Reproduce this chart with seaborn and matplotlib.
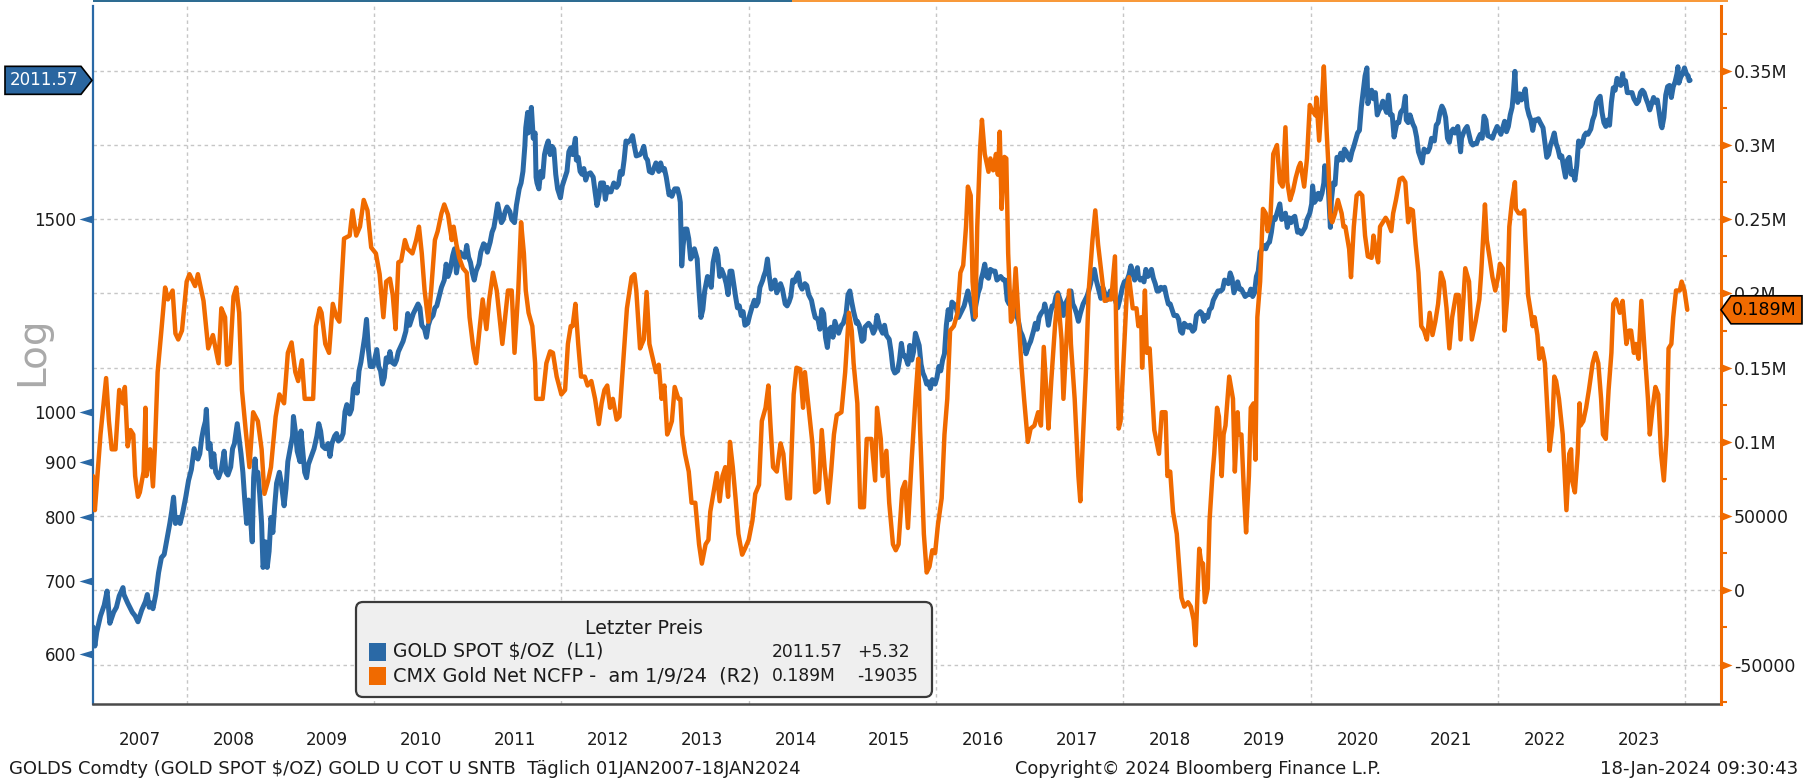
import numpy as np
import pandas as pd
import matplotlib
matplotlib.use("Agg")
import matplotlib.pyplot as plt
import matplotlib.transforms as mtransforms
from matplotlib.patches import Rectangle, FancyBboxPatch, Polygon
from matplotlib.ticker import FixedLocator, FixedFormatter, NullFormatter, NullLocator
import seaborn as sns

# ------------------------------------------------------------------ data
GOLD_T = [
    2007.00, 2007.02, 2007.04, 2007.08, 2007.12, 2007.15, 2007.17, 2007.18, 2007.22, 2007.25, 2007.28, 2007.32, 2007.33, 2007.37, 2007.40, 2007.42, 2007.45, 2007.48, 2007.52, 2007.56, 2007.58, 2007.60, 2007.62, 2007.64, 2007.67, 2007.70, 2007.73, 2007.76, 2007.79, 2007.82, 2007.84, 2007.86, 2007.88, 2007.91, 2007.93, 2007.96, 2007.99,
    2008.02, 2008.05, 2008.08, 2008.10, 2008.12, 2008.14, 2008.16, 2008.18, 2008.20, 2008.21, 2008.23, 2008.25, 2008.27, 2008.29, 2008.31, 2008.34, 2008.37, 2008.40, 2008.42, 2008.44, 2008.47, 2008.49, 2008.51, 2008.54, 2008.56, 2008.58, 2008.60, 2008.62, 2008.64, 2008.66, 2008.68, 2008.70, 2008.715, 2008.73, 2008.74, 2008.76, 2008.78, 2008.80, 2008.815, 2008.83, 2008.84, 2008.86, 2008.88, 2008.90, 2008.92, 2008.94, 2008.96, 2008.99,
    2009.01, 2009.04, 2009.06, 2009.08, 2009.10, 2009.13, 2009.14, 2009.16, 2009.18, 2009.21, 2009.22, 2009.24, 2009.26, 2009.28, 2009.30, 2009.33, 2009.36, 2009.39, 2009.41, 2009.43, 2009.45, 2009.48, 2009.51, 2009.53, 2009.55, 2009.58, 2009.60, 2009.62, 2009.65, 2009.67, 2009.69, 2009.71, 2009.74, 2009.76, 2009.78, 2009.80, 2009.82, 2009.84, 2009.86, 2009.88, 2009.90, 2009.92, 2009.94, 2009.96, 2009.99,
    2010.01, 2010.03, 2010.05, 2010.07, 2010.09, 2010.11, 2010.13, 2010.15, 2010.17, 2010.19, 2010.22, 2010.24, 2010.26, 2010.29, 2010.31, 2010.34, 2010.36, 2010.38, 2010.40, 2010.42, 2010.45, 2010.47, 2010.49, 2010.51, 2010.54, 2010.56, 2010.58, 2010.60, 2010.63, 2010.65, 2010.67, 2010.69, 2010.72, 2010.75, 2010.77, 2010.79, 2010.81, 2010.84, 2010.86, 2010.88, 2010.90, 2010.92, 2010.94, 2010.97, 2010.99,
    2011.01, 2011.03, 2011.05, 2011.07, 2011.09, 2011.12, 2011.14, 2011.17, 2011.19, 2011.21, 2011.24, 2011.26, 2011.28, 2011.30, 2011.32, 2011.34, 2011.36, 2011.38, 2011.40, 2011.42, 2011.45, 2011.47, 2011.50, 2011.52, 2011.55, 2011.57, 2011.59, 2011.61, 2011.62, 2011.64, 2011.645, 2011.66, 2011.67, 2011.68, 2011.70, 2011.72, 2011.73, 2011.74, 2011.76, 2011.78, 2011.80, 2011.82, 2011.84, 2011.86, 2011.88, 2011.90, 2011.92, 2011.94, 2011.96, 2011.99,
    2012.01, 2012.04, 2012.06, 2012.08, 2012.10, 2012.12, 2012.15, 2012.16, 2012.18, 2012.20, 2012.22, 2012.24, 2012.26, 2012.28, 2012.31, 2012.34, 2012.36, 2012.38, 2012.40, 2012.42, 2012.45, 2012.47, 2012.49, 2012.51, 2012.53, 2012.56, 2012.59, 2012.61, 2012.63, 2012.65, 2012.67, 2012.69, 2012.71, 2012.74, 2012.76, 2012.78, 2012.80, 2012.84, 2012.86, 2012.88, 2012.90, 2012.92, 2012.94, 2012.97,
    2013.01, 2013.04, 2013.06, 2013.08, 2013.10, 2013.12, 2013.15, 2013.16, 2013.18, 2013.21, 2013.24, 2013.26, 2013.27, 2013.285, 2013.30, 2013.32, 2013.34, 2013.36, 2013.38, 2013.40, 2013.42, 2013.45, 2013.47, 2013.49, 2013.51, 2013.53, 2013.56, 2013.58, 2013.60, 2013.62, 2013.65, 2013.67, 2013.69, 2013.71, 2013.74, 2013.76, 2013.78, 2013.80, 2013.82, 2013.84, 2013.86, 2013.88, 2013.90, 2013.92, 2013.94, 2013.96, 2013.99,
    2014.01, 2014.04, 2014.06, 2014.08, 2014.10, 2014.12, 2014.15, 2014.16, 2014.18, 2014.20, 2014.22, 2014.24, 2014.26, 2014.28, 2014.30, 2014.32, 2014.34, 2014.36, 2014.39, 2014.41, 2014.43, 2014.45, 2014.47, 2014.49, 2014.51, 2014.53, 2014.55, 2014.57, 2014.60, 2014.62, 2014.64, 2014.67, 2014.69, 2014.71, 2014.74, 2014.76, 2014.78, 2014.80, 2014.82, 2014.84, 2014.86, 2014.88, 2014.90, 2014.92, 2014.94, 2014.96, 2014.99,
    2015.01, 2015.04, 2015.06, 2015.08, 2015.10, 2015.12, 2015.15, 2015.16, 2015.18, 2015.21, 2015.23, 2015.24, 2015.26, 2015.28, 2015.31, 2015.33, 2015.35, 2015.37, 2015.39, 2015.41, 2015.43, 2015.45, 2015.47, 2015.50, 2015.52, 2015.54, 2015.56, 2015.59, 2015.61, 2015.63, 2015.65, 2015.67, 2015.70, 2015.72, 2015.74, 2015.76, 2015.78, 2015.80, 2015.82, 2015.84, 2015.86, 2015.88, 2015.90, 2015.92, 2015.94, 2015.96, 2015.99,
    2016.01, 2016.03, 2016.05, 2016.07, 2016.09, 2016.11, 2016.13, 2016.15, 2016.17, 2016.19, 2016.21, 2016.24, 2016.26, 2016.28, 2016.30, 2016.32, 2016.34, 2016.36, 2016.38, 2016.40, 2016.42, 2016.45, 2016.47, 2016.48, 2016.50, 2016.52, 2016.54, 2016.56, 2016.58, 2016.61, 2016.63, 2016.65, 2016.67, 2016.69, 2016.72, 2016.74, 2016.76, 2016.78, 2016.80, 2016.82, 2016.84, 2016.86, 2016.88, 2016.90, 2016.92, 2016.94, 2016.96, 2016.99,
    2017.01, 2017.04, 2017.06, 2017.08, 2017.10, 2017.12, 2017.15, 2017.16, 2017.18, 2017.20, 2017.22, 2017.24, 2017.26, 2017.28, 2017.30, 2017.32, 2017.34, 2017.36, 2017.38, 2017.40, 2017.42, 2017.44, 2017.46, 2017.48, 2017.50, 2017.52, 2017.54, 2017.57, 2017.59, 2017.61, 2017.63, 2017.65, 2017.67, 2017.69, 2017.71, 2017.74, 2017.76, 2017.78, 2017.80, 2017.82, 2017.84, 2017.86, 2017.88, 2017.90, 2017.92, 2017.94, 2017.96, 2017.99,
    2018.01, 2018.04, 2018.06, 2018.08, 2018.10, 2018.12, 2018.15, 2018.16, 2018.18, 2018.20, 2018.22, 2018.24, 2018.26, 2018.28, 2018.30, 2018.32, 2018.34, 2018.36, 2018.38, 2018.40, 2018.42, 2018.44, 2018.46, 2018.48, 2018.50, 2018.52, 2018.54, 2018.57, 2018.59, 2018.61, 2018.63, 2018.65, 2018.67, 2018.69, 2018.71, 2018.74, 2018.76, 2018.78, 2018.80, 2018.82, 2018.84, 2018.86, 2018.88, 2018.90, 2018.92, 2018.94, 2018.96, 2018.99,
    2019.01, 2019.04, 2019.06, 2019.08, 2019.10, 2019.12, 2019.14, 2019.16, 2019.18, 2019.20, 2019.22, 2019.24, 2019.26, 2019.28, 2019.30, 2019.32, 2019.34, 2019.36, 2019.38, 2019.40, 2019.42, 2019.44, 2019.46, 2019.48, 2019.50, 2019.52, 2019.54, 2019.56, 2019.58, 2019.60, 2019.62, 2019.65, 2019.67, 2019.69, 2019.71, 2019.73, 2019.75, 2019.77, 2019.79, 2019.81, 2019.83, 2019.86, 2019.88, 2019.90, 2019.92, 2019.94, 2019.96, 2019.99,
    2020.01, 2020.02, 2020.04, 2020.06, 2020.08, 2020.10, 2020.12, 2020.14, 2020.15, 2020.16, 2020.18, 2020.19, 2020.21, 2020.22, 2020.24, 2020.26, 2020.28, 2020.30, 2020.32, 2020.34, 2020.36, 2020.38, 2020.40, 2020.42, 2020.44, 2020.46, 2020.48, 2020.50, 2020.52, 2020.54, 2020.56, 2020.58, 2020.60, 2020.61, 2020.63, 2020.65, 2020.67, 2020.69, 2020.71, 2020.73, 2020.75, 2020.77, 2020.79, 2020.81, 2020.83, 2020.85, 2020.87, 2020.89, 2020.92, 2020.94, 2020.96, 2020.99,
    2021.01, 2021.02, 2021.04, 2021.06, 2021.09, 2021.11, 2021.13, 2021.15, 2021.17, 2021.19, 2021.21, 2021.23, 2021.25, 2021.27, 2021.29, 2021.32, 2021.34, 2021.36, 2021.38, 2021.40, 2021.42, 2021.44, 2021.46, 2021.48, 2021.50, 2021.52, 2021.54, 2021.57, 2021.59, 2021.60, 2021.61, 2021.63, 2021.65, 2021.67, 2021.69, 2021.71, 2021.73, 2021.75, 2021.77, 2021.79, 2021.81, 2021.83, 2021.85, 2021.87, 2021.89, 2021.92, 2021.94, 2021.96, 2021.99,
    2022.01, 2022.03, 2022.05, 2022.07, 2022.09, 2022.11, 2022.13, 2022.15, 2022.16, 2022.18, 2022.19, 2022.21, 2022.23, 2022.25, 2022.27, 2022.29, 2022.31, 2022.33, 2022.35, 2022.37, 2022.39, 2022.41, 2022.43, 2022.45, 2022.48, 2022.50, 2022.52, 2022.54, 2022.56, 2022.58, 2022.60, 2022.62, 2022.64, 2022.66, 2022.68, 2022.70, 2022.72, 2022.74, 2022.76, 2022.78, 2022.80, 2022.82, 2022.84, 2022.86, 2022.88, 2022.90, 2022.92, 2022.94, 2022.96, 2022.99,
    2023.01, 2023.03, 2023.05, 2023.07, 2023.09, 2023.11, 2023.13, 2023.15, 2023.17, 2023.19, 2023.21, 2023.23, 2023.25, 2023.27, 2023.29, 2023.31, 2023.33, 2023.34, 2023.36, 2023.38, 2023.41, 2023.43, 2023.45, 2023.48, 2023.50, 2023.52, 2023.54, 2023.56, 2023.58, 2023.60, 2023.62, 2023.64, 2023.66, 2023.68, 2023.70, 2023.72, 2023.74, 2023.75, 2023.77, 2023.79, 2023.81, 2023.83, 2023.85, 2023.87, 2023.89, 2023.91, 2023.92, 2023.93, 2023.95, 2023.97, 2023.99,
    2024.01, 2024.03, 2024.04, 2024.05,
]
GOLD_P = [
    635, 610, 628, 650, 665, 685, 655, 640, 655, 662, 678, 690, 680, 668, 660, 655, 650, 642, 658, 670, 680, 662, 668, 660, 680, 712, 735, 740, 765, 790, 810, 835, 790, 800, 790, 810, 835,
    865, 885, 925, 910, 905, 915, 945, 965, 980, 1005, 925, 935, 890, 915, 880, 870, 885, 920, 880, 875, 890, 925, 935, 975, 945, 915, 880, 830, 790, 830, 800, 760, 870, 905, 880, 880, 840, 790, 720, 730, 760, 720, 745, 800, 775, 820, 860, 880,
    860, 820, 850, 900, 920, 950, 990, 960, 920, 900, 960, 920, 880, 870, 895, 910, 925, 950, 975, 960, 930, 925, 935, 910, 935, 950, 955, 940, 945, 955, 1000, 1015, 995, 1005, 1050, 1060, 1040, 1090, 1110, 1140, 1170, 1215, 1140, 1100, 1100,
    1120, 1140, 1100, 1090, 1060, 1075, 1120, 1110, 1135, 1110, 1105, 1115, 1135, 1150, 1160, 1185, 1230, 1200, 1215, 1230, 1245, 1255, 1245, 1200, 1190, 1170, 1200, 1215, 1225, 1245, 1250, 1270, 1300, 1320, 1365, 1330, 1345, 1390, 1410, 1340, 1375, 1400, 1390, 1385, 1420,
    1385, 1370, 1340, 1320, 1345, 1365, 1400, 1425, 1420, 1400, 1430, 1460, 1475, 1510, 1550, 1520, 1490, 1500, 1525, 1540, 1525, 1500, 1490, 1545, 1600, 1620, 1660, 1750, 1820, 1880, 1800, 1830, 1860, 1900, 1780, 1800, 1640, 1620, 1600, 1660, 1640, 1720, 1750, 1770, 1720, 1750, 1740, 1650, 1600, 1570,
    1610, 1640, 1660, 1730, 1745, 1720, 1780, 1700, 1710, 1660, 1650, 1670, 1630, 1650, 1655, 1640, 1590, 1545, 1575, 1620, 1620, 1565, 1605, 1590, 1590, 1620, 1605, 1615, 1660, 1650, 1700, 1770, 1765, 1775, 1790, 1750, 1715, 1720, 1730, 1750, 1710, 1700, 1660, 1655,
    1690, 1660, 1690, 1665, 1670, 1640, 1580, 1590, 1575, 1600, 1600, 1575, 1555, 1360, 1420, 1470, 1470, 1440, 1380, 1390, 1410, 1380, 1290, 1220, 1240, 1290, 1330, 1320, 1300, 1370, 1410, 1390, 1330, 1350, 1330, 1310, 1280, 1345, 1345, 1310, 1275, 1245, 1250, 1225, 1235, 1200, 1205,
    1225, 1250, 1265, 1250, 1260, 1300, 1320, 1330, 1345, 1380, 1330, 1295, 1300, 1320, 1285, 1300, 1310, 1295, 1255, 1250, 1260, 1275, 1320, 1315, 1330, 1340, 1305, 1295, 1310, 1305, 1280, 1265, 1240, 1220, 1215, 1190, 1240, 1230, 1170, 1145, 1190, 1195, 1170, 1210, 1195, 1180, 1200,
    1205, 1230, 1280, 1290, 1260, 1235, 1205, 1210, 1200, 1160, 1165, 1195, 1200, 1205, 1195, 1180, 1190, 1225, 1205, 1190, 1180, 1200, 1175, 1165, 1135, 1095, 1085, 1090, 1115, 1155, 1125, 1125, 1105, 1150, 1115, 1135, 1180, 1165, 1150, 1105, 1085, 1075, 1060, 1065, 1050, 1070, 1060,
    1075, 1100, 1090, 1115, 1130, 1200, 1240, 1215, 1260, 1255, 1250, 1220, 1230, 1240, 1250, 1270, 1290, 1270, 1250, 1215, 1245, 1285, 1300, 1320, 1340, 1365, 1330, 1325, 1350, 1345, 1345, 1320, 1325, 1330, 1320, 1320, 1265, 1255, 1265, 1270, 1290, 1225, 1210, 1185, 1175, 1160, 1130, 1150,
    1160, 1185, 1205, 1190, 1220, 1230, 1240, 1255, 1235, 1200, 1230, 1250, 1250, 1275, 1285, 1270, 1255, 1225, 1255, 1265, 1275, 1290, 1255, 1245, 1230, 1210, 1230, 1255, 1265, 1275, 1290, 1310, 1340, 1350, 1320, 1290, 1270, 1300, 1285, 1265, 1275, 1290, 1285, 1280, 1260, 1245, 1265, 1300,
    1315, 1320, 1335, 1360, 1340, 1320, 1355, 1330, 1320, 1325, 1315, 1350, 1330, 1335, 1350, 1325, 1310, 1290, 1290, 1300, 1295, 1300, 1275, 1255, 1255, 1240, 1225, 1225, 1215, 1185, 1180, 1205, 1200, 1195, 1200, 1185, 1190, 1225, 1230, 1235, 1230, 1210, 1225, 1220, 1240, 1245, 1265, 1280,
    1290, 1290, 1295, 1320, 1315, 1310, 1340, 1325, 1285, 1300, 1315, 1295, 1295, 1285, 1275, 1280, 1280, 1295, 1275, 1285, 1330, 1345, 1400, 1410, 1420, 1410, 1425, 1430, 1460, 1505, 1500, 1530, 1550, 1500, 1505, 1520, 1475, 1505, 1490, 1505, 1510, 1460, 1465, 1455, 1465, 1475, 1500, 1520,
    1550, 1610, 1555, 1565, 1585, 1565, 1585, 1620, 1680, 1645, 1675, 1590, 1475, 1560, 1620, 1615, 1710, 1700, 1725, 1700, 1740, 1730, 1710, 1700, 1730, 1750, 1775, 1800, 1810, 1900, 1965, 2030, 2065, 1915, 1945, 1970, 1935, 1960, 1870, 1890, 1900, 1925, 1900, 1880, 1950, 1870, 1870, 1785, 1840, 1840, 1880, 1895,
    1945, 1850, 1840, 1870, 1835, 1820, 1785, 1730, 1710, 1690, 1740, 1730, 1730, 1745, 1780, 1770, 1830, 1840, 1880, 1905, 1890, 1860, 1780, 1765, 1805, 1815, 1800, 1825, 1760, 1730, 1780, 1800, 1815, 1825, 1795, 1765, 1755, 1760, 1760, 1780, 1795, 1780, 1865, 1850, 1790, 1785, 1780, 1800, 1825,
    1810, 1795, 1820, 1845, 1805, 1825, 1870, 1900, 1940, 2050, 1960, 1920, 1955, 1930, 1950, 1975, 1900, 1870, 1850, 1810, 1850, 1850, 1855, 1840, 1820, 1765, 1710, 1720, 1755, 1775, 1800, 1760, 1740, 1710, 1715, 1675, 1640, 1700, 1710, 1650, 1660, 1630, 1680, 1770, 1750, 1760, 1790, 1800, 1795, 1815,
    1850, 1870, 1920, 1935, 1945, 1880, 1840, 1825, 1850, 1830, 1920, 1980, 1970, 2020, 2000, 1990, 2040, 2000, 2010, 1960, 1960, 1960, 1935, 1915, 1925, 1960, 1970, 1960, 1935, 1915, 1890, 1915, 1940, 1920, 1930, 1880, 1830, 1820, 1860, 1950, 1985, 1990, 1940, 1985, 2005, 2040, 2070, 2000, 2025, 2040, 2065,
    2040, 2030, 2010, 2011.57,
]

NCFP_T = [
    2007.00, 2007.02, 2007.08, 2007.14, 2007.17, 2007.20, 2007.24, 2007.28, 2007.32, 2007.34, 2007.37, 2007.40, 2007.43, 2007.45, 2007.48, 2007.50, 2007.54, 2007.56, 2007.57, 2007.61, 2007.64, 2007.66, 2007.69, 2007.73, 2007.77, 2007.80, 2007.85, 2007.88, 2007.91, 2007.95,
    2008.00, 2008.03, 2008.09, 2008.12, 2008.18, 2008.23, 2008.28, 2008.34, 2008.37, 2008.41, 2008.43, 2008.46, 2008.50, 2008.53, 2008.56, 2008.59, 2008.63, 2008.67, 2008.71, 2008.76, 2008.80, 2008.83, 2008.87, 2008.90, 2008.95, 2008.99,
    2009.04, 2009.08, 2009.12, 2009.16, 2009.19, 2009.23, 2009.26, 2009.30, 2009.35, 2009.38, 2009.42, 2009.44, 2009.48, 2009.52, 2009.56, 2009.60, 2009.63, 2009.68, 2009.74, 2009.77, 2009.81, 2009.85, 2009.89, 2009.93, 2009.97,
    2010.02, 2010.06, 2010.10, 2010.13, 2010.17, 2010.20, 2010.23, 2010.26, 2010.29, 2010.33, 2010.36, 2010.41, 2010.45, 2010.48, 2010.51, 2010.54, 2010.58, 2010.61, 2010.65, 2010.68, 2010.72, 2010.75, 2010.79, 2010.83, 2010.85, 2010.88, 2010.91, 2010.95, 2010.99,
    2011.02, 2011.06, 2011.09, 2011.13, 2011.16, 2011.20, 2011.23, 2011.27, 2011.31, 2011.34, 2011.37, 2011.40, 2011.43, 2011.47, 2011.50, 2011.54, 2011.57, 2011.60, 2011.62, 2011.65, 2011.69, 2011.72, 2011.73, 2011.77, 2011.80, 2011.84, 2011.88, 2011.91, 2011.95,
    2012.00, 2012.04, 2012.07, 2012.10, 2012.12, 2012.15, 2012.18, 2012.21, 2012.25, 2012.28, 2012.32, 2012.36, 2012.40, 2012.43, 2012.46, 2012.49, 2012.52, 2012.55, 2012.59, 2012.62, 2012.66, 2012.70, 2012.75, 2012.78, 2012.80, 2012.84, 2012.88, 2012.91, 2012.94, 2012.98,
    2013.01, 2013.04, 2013.07, 2013.10, 2013.13, 2013.15, 2013.18, 2013.21, 2013.25, 2013.27, 2013.29, 2013.32, 2013.36, 2013.39, 2013.43, 2013.47, 2013.50, 2013.54, 2013.57, 2013.59, 2013.63, 2013.66, 2013.69, 2013.72, 2013.75, 2013.78, 2013.80, 2013.83, 2013.86, 2013.89, 2013.93, 2013.96,
    2014.00, 2014.04, 2014.07, 2014.11, 2014.14, 2014.18, 2014.21, 2014.23, 2014.26, 2014.30, 2014.34, 2014.37, 2014.41, 2014.44, 2014.48, 2014.51, 2014.55, 2014.58, 2014.60, 2014.64, 2014.68, 2014.71, 2014.75, 2014.78, 2014.81, 2014.85, 2014.88, 2014.91, 2014.94, 2014.99,
    2015.03, 2015.07, 2015.10, 2015.12, 2015.16, 2015.19, 2015.23, 2015.26, 2015.31, 2015.35, 2015.37, 2015.41, 2015.43, 2015.47, 2015.50, 2015.54, 2015.57, 2015.60, 2015.64, 2015.67, 2015.70, 2015.74, 2015.78, 2015.81, 2015.83, 2015.87, 2015.90, 2015.93, 2015.96, 2015.99,
    2016.02, 2016.06, 2016.09, 2016.12, 2016.15, 2016.19, 2016.23, 2016.26, 2016.29, 2016.32, 2016.34, 2016.37, 2016.39, 2016.42, 2016.44, 2016.47, 2016.49, 2016.52, 2016.56, 2016.58, 2016.61, 2016.64, 2016.66, 2016.68, 2016.70, 2016.73, 2016.75, 2016.77, 2016.80, 2016.82, 2016.85, 2016.88, 2016.91, 2016.94, 2016.98,
    2017.01, 2017.05, 2017.09, 2017.12, 2017.15, 2017.18, 2017.20, 2017.23, 2017.27, 2017.30, 2017.34, 2017.36, 2017.39, 2017.42, 2017.44, 2017.48, 2017.52, 2017.54, 2017.57, 2017.60, 2017.63, 2017.67, 2017.70, 2017.73, 2017.77, 2017.80, 2017.84, 2017.87, 2017.91, 2017.93, 2017.95, 2017.97,
    2018.00, 2018.04, 2018.06, 2018.10, 2018.14, 2018.16, 2018.19, 2018.20, 2018.23, 2018.25, 2018.28, 2018.30, 2018.33, 2018.38, 2018.41, 2018.45, 2018.47, 2018.50, 2018.53, 2018.57, 2018.62, 2018.65, 2018.69, 2018.72, 2018.75, 2018.77, 2018.81, 2018.83, 2018.85, 2018.87, 2018.90, 2018.92, 2018.95, 2018.97,
    2019.00, 2019.02, 2019.05, 2019.07, 2019.09, 2019.13, 2019.17, 2019.19, 2019.22, 2019.23, 2019.26, 2019.29, 2019.31, 2019.34, 2019.36, 2019.39, 2019.41, 2019.43, 2019.46, 2019.49, 2019.52, 2019.54, 2019.57, 2019.60, 2019.64, 2019.67, 2019.70, 2019.73, 2019.75, 2019.78, 2019.81, 2019.84, 2019.87, 2019.89, 2019.93, 2019.96, 2019.99,
    2020.01, 2020.05, 2020.06, 2020.09, 2020.12, 2020.14, 2020.17, 2020.19, 2020.21, 2020.23, 2020.26, 2020.29, 2020.33, 2020.35, 2020.37, 2020.41, 2020.43, 2020.46, 2020.49, 2020.52, 2020.55, 2020.58, 2020.61, 2020.65, 2020.67, 2020.70, 2020.72, 2020.74, 2020.77, 2020.80, 2020.82, 2020.86, 2020.88, 2020.91, 2020.95, 2020.98,
    2021.01, 2021.04, 2021.06, 2021.09, 2021.12, 2021.15, 2021.18, 2021.21, 2021.24, 2021.27, 2021.30, 2021.33, 2021.36, 2021.39, 2021.42, 2021.45, 2021.48, 2021.51, 2021.55, 2021.58, 2021.60, 2021.63, 2021.65, 2021.69, 2021.72, 2021.76, 2021.80, 2021.82, 2021.86, 2021.88, 2021.91, 2021.94, 2021.97,
    2022.00, 2022.02, 2022.05, 2022.07, 2022.10, 2022.12, 2022.15, 2022.18, 2022.19, 2022.22, 2022.25, 2022.28, 2022.29, 2022.32, 2022.35, 2022.37, 2022.39, 2022.42, 2022.44, 2022.47, 2022.50, 2022.53, 2022.55, 2022.58, 2022.60, 2022.62, 2022.65, 2022.69, 2022.73, 2022.76, 2022.78, 2022.79, 2022.82, 2022.85, 2022.87, 2022.88, 2022.91, 2022.94, 2022.97,
    2023.01, 2023.04, 2023.07, 2023.10, 2023.12, 2023.15, 2023.18, 2023.21, 2023.23, 2023.26, 2023.30, 2023.33, 2023.37, 2023.40, 2023.42, 2023.45, 2023.47, 2023.50, 2023.53, 2023.56, 2023.60, 2023.62, 2023.65, 2023.68, 2023.71, 2023.74, 2023.77, 2023.80, 2023.82, 2023.85, 2023.87, 2023.90, 2023.94, 2023.96, 2023.99,
    2024.02,
]
# net non-commercial futures positions, thousands of contracts
NCFP_K = [
    77, 54, 105, 143, 114, 95, 95, 135, 126, 137, 97, 108, 105, 77, 63, 66, 80, 123, 77, 95, 70, 95, 147, 175, 204, 196, 202, 173, 169, 175,
    208, 213, 205, 213, 195, 163, 172, 153, 190, 184, 152, 153, 198, 204, 187, 135, 108, 83, 120, 114, 95, 65, 74, 83, 117, 132,
    126, 160, 167, 147, 141, 155, 129, 129, 129, 178, 190, 187, 166, 160, 193, 184, 181, 237, 239, 256, 239, 245, 263, 256, 231,
    227, 213, 184, 208, 210, 199, 176, 221, 222, 236, 230, 227, 236, 245, 227, 202, 181, 202, 236, 242, 254, 260, 253, 236, 245, 233, 224, 217, 214,
    184, 163, 153, 178, 196, 176, 196, 214, 202, 184, 166, 184, 202, 202, 160, 202, 248, 227, 202, 187, 178, 153, 129, 129, 129, 153, 161, 160, 144,
    132, 135, 166, 178, 178, 193, 166, 144, 144, 138, 141, 129, 112, 126, 135, 138, 123, 129, 115, 117, 153, 190, 211, 213, 202, 163, 169, 201, 166, 155,
    147, 152, 129, 138, 105, 108, 114, 137, 129, 129, 105, 92, 80, 59, 59, 31, 18, 31, 34, 53, 68, 79, 60, 77, 83, 63, 100, 83, 62, 38, 24, 28,
    34, 47, 65, 71, 114, 123, 138, 114, 83, 80, 99, 92, 62, 62, 132, 150, 149, 123, 147, 123, 99, 66, 68, 108, 83, 59, 80, 105, 118, 120,
    147, 187, 175, 153, 126, 56, 56, 102, 102, 74, 123, 102, 77, 94, 59, 31, 27, 31, 68, 73, 42, 88, 129, 156, 108, 38, 12, 16, 27, 25,
    44, 62, 105, 129, 175, 178, 187, 214, 219, 245, 272, 266, 208, 184, 245, 297, 317, 294, 282, 291, 283, 294, 280, 309, 257, 292, 291, 227, 181, 184, 217, 184, 153, 129, 100,
    109, 111, 120, 111, 164, 132, 109, 141, 178, 199, 169, 129, 166, 202, 166, 129, 77, 60, 105, 147, 202, 236, 256, 233, 211, 195, 196, 196, 225, 153, 109, 114,
    153, 205, 211, 190, 190, 178, 184, 150, 202, 160, 163, 141, 108, 92, 120, 120, 77, 80, 53, 38, -5, -11, -8, -11, -20, -37, 28, 19, 18, -8, 1, 47, 77, 92,
    123, 117, 77, 105, 111, 144, 129, 80, 120, 105, 105, 62, 39, 77, 123, 126, 88, 184, 208, 257, 254, 242, 251, 294, 300, 275, 272, 312, 275, 263, 269, 278, 285, 288, 272, 291, 327,
    324, 320, 332, 303, 330, 353, 309, 285, 251, 248, 254, 263, 254, 245, 245, 230, 211, 245, 266, 268, 266, 239, 225, 224, 239, 227, 221, 245, 248, 251, 249, 242, 254, 263, 277, 278,
    275, 248, 257, 256, 233, 214, 178, 175, 169, 187, 172, 181, 193, 214, 208, 190, 163, 184, 199, 199, 169, 196, 217, 208, 169, 181, 196, 214, 260, 236, 224, 211, 202,
    211, 220, 217, 175, 199, 245, 263, 275, 257, 254, 254, 256, 239, 199, 187, 178, 184, 172, 156, 163, 153, 117, 94, 111, 144, 141, 129, 105, 54, 92, 95, 74, 66, 92, 126, 111, 114, 123, 135,
    153, 160, 153, 129, 105, 102, 135, 160, 193, 196, 187, 195, 166, 175, 175, 160, 166, 156, 195, 166, 129, 105, 123, 137, 132, 92, 74, 105, 163, 166, 184, 202, 202, 208, 202,
    189,
]

YEARS = list(range(2007, 2024))
LEFT_TICKS = [600, 700, 800, 900, 1000, 1500]
RIGHT_TICKS = [-50000, 0, 50000, 100000, 150000, 200000, 250000, 300000, 350000]
RIGHT_LABELS = ["-50000", "0", "50000", "0.1M", "0.15M", "0.2M", "0.25M", "0.3M", "0.35M"]
GOLD_NAME = "GOLD SPOT $/OZ  (L1)"
NCFP_NAME = "CMX Gold Net NCFP -  am 1/9/24  (R2)"
GOLD_CHANGE = "+5.32"
NCFP_CHANGE = "-19035"

# ------------------------------------------------------------------ style
BLUE = "#2a69a6"
ORANGE = "#f06a00"
BAR_BLUE = "#2e6c92"
BAR_ORANGE = "#f8993a"
GRID = "#c6c6c6"
TXT = "#1c1c1c"

sns.set_theme(style="white")
plt.rcParams["font.family"] = ["DejaVu Sans"]

W, H = 1819, 784
fig = plt.figure(figsize=(W / 100, H / 100), dpi=100)
L, R, T, B = 93, 1721, 6, 704
rect = [L / W, 1 - B / H, (R - L) / W, (B - T) / H]

XLIM = (2007.0, 2024.38)
LEFT_LIM = (539.8, 2353.0)
RIGHT_LIM = (-76600, 393700)
EDGES = YEARS + [YEARS[-1] + 1]

# background grid axes
axg = fig.add_axes(rect)
axg.set_xlim(*XLIM)
axg.set_ylim(*RIGHT_LIM)
axg.set_xticks([e for e in EDGES if e % 2 == 0])
axg.set_yticks(RIGHT_TICKS)
axg.grid(True, color=GRID, linestyle=(0, (2.5, 2.5)), linewidth=1.0)
axg.tick_params(length=0, labelbottom=False, labelleft=False)
for s in axg.spines.values():
    s.set_visible(False)
axg.set_facecolor("white")

ax = fig.add_axes(rect)
ax.patch.set_visible(False)
ax2 = ax.twinx()

gold = pd.DataFrame({"t": GOLD_T, "price": GOLD_P})
ncfp = pd.DataFrame({"t": NCFP_T, "net": np.array(NCFP_K, dtype=float) * 1000})

sns.lineplot(data=gold, x="t", y="price", ax=ax, color=BLUE, linewidth=3.6,
             estimator=None, sort=False, legend=False,
             solid_joinstyle="round", solid_capstyle="round")
sns.lineplot(data=ncfp, x="t", y="net", ax=ax2, color=ORANGE, linewidth=3.2,
             estimator=None, sort=False, legend=False,
             solid_joinstyle="round", solid_capstyle="round")

ax.set_yscale("log")
ax.set_xlim(*XLIM)
ax.set_ylim(*LEFT_LIM)
ax2.set_ylim(*RIGHT_LIM)
for a in (ax, ax2):
    a.set_xlabel("")
    a.set_ylabel("")
    a.grid(False)

# left axis
ax.yaxis.set_major_locator(FixedLocator(LEFT_TICKS))
ax.yaxis.set_major_formatter(FixedFormatter([str(v) for v in LEFT_TICKS]))
ax.yaxis.set_minor_locator(NullLocator())
ax.tick_params(axis="y", which="major", length=0, pad=11.9, labelsize=12, labelcolor=TXT)
ax.spines["left"].set_color(BLUE)
ax.spines["left"].set_linewidth(1.6)
ax.spines["right"].set_visible(False)
ax.spines["top"].set_visible(False)
ax.spines["bottom"].set_color("#4a4a4a")
ax.spines["bottom"].set_linewidth(1.8)

left_tri = [(0, 0.6), (-2, 0), (0, -0.6), (0, 0.6)]
for v in LEFT_TICKS:
    ax.plot([0], [v], marker=left_tri, ms=20.2, color=BLUE, mec=BLUE, mew=0,
            transform=ax.get_yaxis_transform(), clip_on=False, zorder=5)

# x axis: year separators + centred year labels
ax.xaxis.set_major_locator(FixedLocator(EDGES[1:]))
ax.xaxis.set_major_formatter(NullFormatter())
ax.xaxis.set_minor_locator(FixedLocator([y + 0.5 for y in YEARS]))
ax.xaxis.set_minor_formatter(FixedFormatter([str(y) for y in YEARS]))
ax.tick_params(axis="x", which="major", length=36.7, width=1.3, color="#6f6f6f", direction="out")
ax.tick_params(axis="x", which="minor", length=0, pad=19.5, labelsize=12, labelcolor=TXT)

# right axis
ax2.yaxis.set_major_locator(FixedLocator(RIGHT_TICKS))
ax2.yaxis.set_major_formatter(FixedFormatter(RIGHT_LABELS))
ax2.yaxis.set_minor_locator(FixedLocator([v + 25000 for v in [RIGHT_TICKS[0] - 50000] + RIGHT_TICKS]))
ax2.tick_params(axis="y", which="major", length=0, pad=9.4, labelsize=12.5, labelcolor=TXT)
ax2.tick_params(axis="y", which="minor", length=4, width=1.5, color=ORANGE, direction="out")
for k in ("left", "top", "bottom"):
    ax2.spines[k].set_visible(False)
ax2.spines["right"].set_color(ORANGE)
ax2.spines["right"].set_linewidth(2.2)

right_tri = [(0, 0.8), (2, 0), (0, -0.8), (0, 0.8)]
for v in RIGHT_TICKS:
    ax2.plot([1], [v], marker=right_tri, ms=15.8, color=ORANGE, mec=ORANGE, mew=0,
             transform=ax2.get_yaxis_transform(), clip_on=False, zorder=5)

# coloured strip above the plot
ax2.add_patch(Rectangle((0, 1.0057), 0.4294, 0.0058, transform=ax2.transAxes,
                        color=BAR_BLUE, clip_on=False, lw=0))
ax2.add_patch(Rectangle((0.4294, 1.0057), 1.0043 - 0.4294, 0.0058, transform=ax2.transAxes,
                        color=BAR_ORANGE, clip_on=False, lw=0))

ID = mtransforms.IdentityTransform()

# last-value boxes
y_gold = ax.transData.transform((2010, GOLD_P[-1]))[1]
fig.add_artist(Polygon([(5, y_gold - 14), (81, y_gold - 14), (92, y_gold), (81, y_gold + 14), (5, y_gold + 14)],
                       closed=True, transform=ID, fc="#2a66a0", ec="black", lw=1.2, zorder=6))
fig.text(44, y_gold, f"{GOLD_P[-1]:.2f}", transform=ID, ha="center", va="center",
         color="white", fontsize=12, zorder=7)

last_net = NCFP_K[-1] * 1000
y_net = ax2.transData.transform((2010, last_net))[1]
fig.add_artist(Polygon([(1721, y_net), (1731, y_net + 14), (1802, y_net + 14), (1802, y_net - 14), (1731, y_net - 14)],
                       closed=True, transform=ID, fc=ORANGE, ec="black", lw=1.2, zorder=6))
fig.text(1764, y_net, f"{last_net / 1e6:.3f}M", transform=ID, ha="center", va="center",
         color="black", fontsize=12.5, zorder=7)

# "Log" label
fig.text(32, H - 351, "Log", transform=ID, rotation=90, ha="center", va="center",
         fontsize=28, color="#a9a9a9")

# legend box
fig.add_artist(FancyBboxPatch((356, H - 697), 576, 95, boxstyle="round,pad=0,rounding_size=7",
                              transform=ID, fc="#efefef", ec="#3a3a3a", lw=1.6, zorder=8))
renderer = fig.canvas.get_renderer()


def fit(txt, target):
    for _ in range(3):
        w = txt.get_window_extent(renderer).width
        txt.set_fontsize(txt.get_fontsize() * target / w)
    return txt


fit(fig.text(644, H - 629, "Letzter Preis", transform=ID, ha="center", va="center",
             fontsize=12, color=TXT, zorder=9), 118)
fig.add_artist(Rectangle((369, H - 661), 17, 18, transform=ID, fc=BLUE, lw=0, zorder=9))
fig.add_artist(Rectangle((369, H - 685), 17, 18, transform=ID, fc=ORANGE, lw=0, zorder=9))
fit(fig.text(393, H - 652, GOLD_NAME, transform=ID, ha="left", va="center",
             fontsize=12, color=TXT, zorder=9), 211)
fit(fig.text(393, H - 676, NCFP_NAME, transform=ID, ha="left", va="center",
             fontsize=12, color=TXT, zorder=9), 367)
fig.text(772, H - 652, f"{GOLD_P[-1]:.2f}", transform=ID, ha="left", va="center",
         fontsize=12.3, color=TXT, zorder=9)
fig.text(857, H - 652, GOLD_CHANGE, transform=ID, ha="left", va="center",
         fontsize=12.3, color=TXT, zorder=9)
fig.text(772, H - 676, f"{last_net / 1e6:.3f}M", transform=ID, ha="left", va="center",
         fontsize=12.3, color=TXT, zorder=9)
fig.text(857, H - 676, NCFP_CHANGE, transform=ID, ha="left", va="center",
         fontsize=12.3, color=TXT, zorder=9)

# footer
fit(fig.text(9, H - 769, "GOLDS Comdty (GOLD SPOT $/OZ) GOLD U COT U SNTB  Täglich 01JAN2007-18JAN2024",
             transform=ID, ha="left", va="center", fontsize=12, color=TXT), 791)
fit(fig.text(1015, H - 769, "Copyright© 2024 Bloomberg Finance L.P.", transform=ID,
             ha="left", va="center", fontsize=12, color=TXT), 366)
fit(fig.text(1798, H - 769, "18-Jan-2024 09:30:43", transform=ID, ha="right", va="center",
             fontsize=12, color=TXT), 198)

fig.savefig("out.png", dpi=100)
